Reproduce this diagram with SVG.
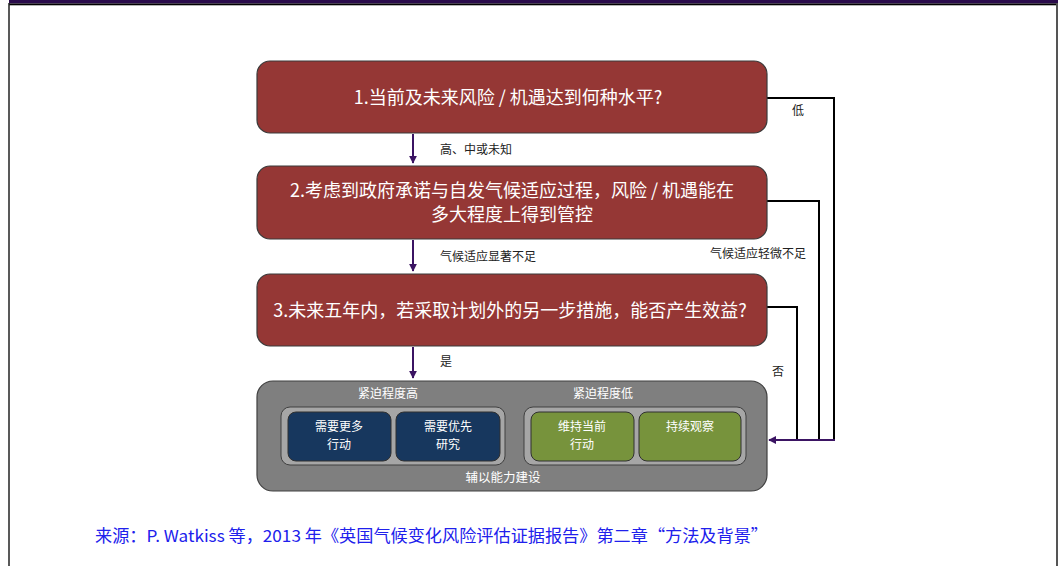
<svg xmlns="http://www.w3.org/2000/svg" width="1062" height="566" viewBox="0 0 1062 566">
<defs>
<style>
.q{fill:#953735;stroke:#3a3a3a;stroke-width:1.2}
.qt{font-family:"Noto Sans CJK SC","Microsoft YaHei",sans-serif;font-size:18px;fill:#fff;text-anchor:middle}
.lb{font-family:"Noto Sans CJK SC",sans-serif;font-size:12px;fill:#222}
.wl{font-family:"Noto Sans CJK SC",sans-serif;font-size:12px;fill:#fff;text-anchor:middle}
.grp{fill:#a6a6a6;stroke:#404040;stroke-width:1}
.blue{fill:#17375e;stroke:#303030;stroke-width:1}
.green{fill:#77933c;stroke:#303030;stroke-width:1}
.arr{stroke:#3b1463;stroke-width:2;fill:none}
.ln{stroke:#000;stroke-width:2;fill:none}
</style>
<marker id="ah" viewBox="0 0 10 10" refX="9" refY="5" markerWidth="4" markerHeight="4" orient="auto">
<path d="M0,0 L10,5 L0,10 z" fill="#3b1463"/>
</marker>
</defs>
<rect width="1062" height="566" fill="#fff"/>
<g id="frame">
<rect x="9" y="0" width="1049" height="3.5" fill="#2a0b4b"/>
<rect x="9" y="3.5" width="1049" height="1.8" fill="#000"/>
<line x1="9" y1="3" x2="9" y2="566" stroke="#222" stroke-width="1.5"/>
<line x1="1057" y1="3" x2="1057" y2="566" stroke="#555" stroke-width="2"/>
</g>
<g id="connectors">
<line class="arr" x1="413" y1="134" x2="413" y2="163" marker-end="url(#ah)"/>
<line class="arr" x1="413" y1="240" x2="413" y2="271" marker-end="url(#ah)"/>
<line class="arr" x1="413" y1="347" x2="413" y2="378" marker-end="url(#ah)"/>
<polyline class="ln" points="767,98 834,98 834,440"/>
<polyline class="ln" points="767,201 819,201 819,440"/>
<polyline class="ln" points="767,307 797,307 797,440"/>
<line class="arr" x1="835" y1="440" x2="769" y2="440" marker-end="url(#ah)"/>
<text class="lb" x="440" y="154">高、中或未知</text>
<text class="lb" x="440" y="261">气候适应显著不足</text>
<text class="lb" x="440" y="366">是</text>
<text class="lb" x="792" y="115">低</text>
<text class="lb" x="710" y="258">气候适应轻微不足</text>
<text class="lb" x="772" y="376">否</text>
</g>
<g id="q1">
<rect class="q" x="257" y="61" width="510" height="72" rx="13"/>
<text class="qt" x="508" y="104">1.当前及未来风险 / 机遇达到何种水平?</text>
</g>
<g id="q2">
<rect class="q" x="257" y="166" width="510" height="73" rx="13"/>
<text class="qt" x="512" y="197">2.考虑到政府承诺与自发气候适应过程，风险 / 机遇能在</text>
<text class="qt" x="512" y="221">多大程度上得到管控</text>
</g>
<g id="q3">
<rect class="q" x="257" y="274" width="510" height="72" rx="13"/>
<text class="qt" x="510" y="317">3.未来五年内，若采取计划外的另一步措施，能否产生效益?</text>
</g>
<g id="outcome">
<rect x="257" y="381" width="510" height="110" rx="16" fill="#7f7f7f" stroke="#404040" stroke-width="1.2"/>
<text class="wl" x="388" y="398" font-size="13">紧迫程度高</text>
<text class="wl" x="603" y="398" font-size="13">紧迫程度低</text>
<text class="wl" x="503" y="482" style="font-size:12.5px">辅以能力建设</text>
</g>
<g id="high">
<rect class="grp" x="281" y="407" width="224" height="58" rx="9"/>
</g>
<g id="more-action">
<rect class="blue" x="288" y="412" width="103" height="49" rx="8"/>
<text class="wl" x="339" y="431">需要更多</text>
<text class="wl" x="339" y="449">行动</text>
</g>
<g id="priority-research">
<rect class="blue" x="396" y="412" width="104" height="49" rx="8"/>
<text class="wl" x="448" y="431">需要优先</text>
<text class="wl" x="448" y="449">研究</text>
</g>
<g id="low">
<rect class="grp" x="524" y="407" width="222" height="58" rx="9"/>
</g>
<g id="maintain">
<rect class="green" x="531" y="412" width="103" height="49" rx="8"/>
<text class="wl" x="582" y="431">维持当前</text>
<text class="wl" x="582" y="449">行动</text>
</g>
<g id="watch">
<rect class="green" x="639" y="412" width="102" height="49" rx="8"/>
<text class="wl" x="690" y="431">持续观察</text>
</g>
<g id="source">
<text x="95" y="542" font-family="'Noto Sans CJK SC',sans-serif" font-size="16.5" fill="#2020ec" textLength="673" lengthAdjust="spacingAndGlyphs">来源：P. Watkiss 等，2013 年《英国气候变化风险评估证据报告》第二章“方法及背景”</text>
</g>
</svg>
